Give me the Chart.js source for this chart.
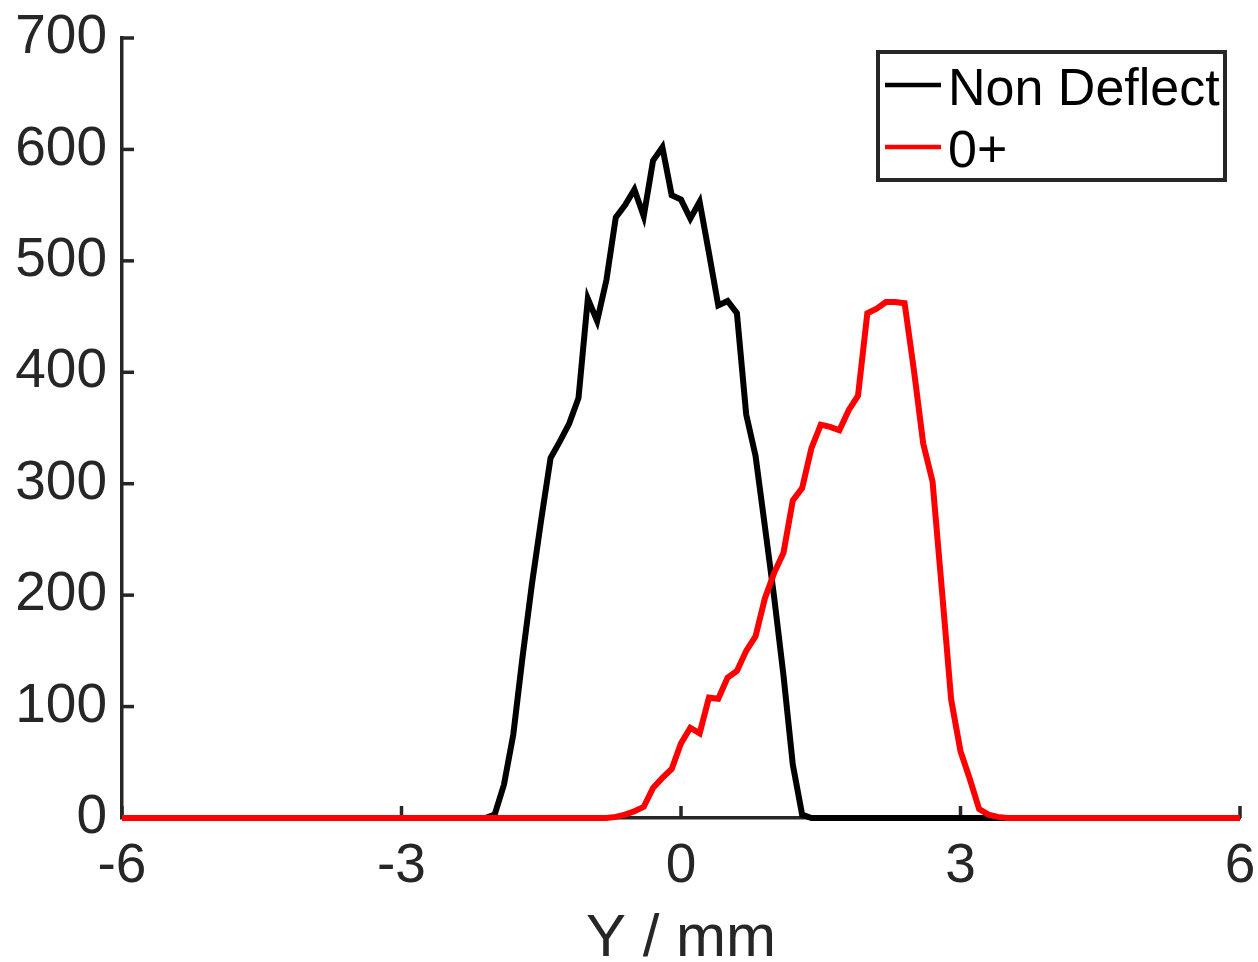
<!DOCTYPE html>
<html>
<head>
<meta charset="utf-8">
<script src="https://cdn.jsdelivr.net/npm/chart.js@4.4.1/dist/chart.umd.min.js"></script>
<style>
    html, body { margin: 0; padding: 0; background: #fff; }
    #wrap { width: 1258px; height: 962px; position: relative; }
</style>
</head>
<body>
<div id="wrap"><canvas id="profileChart"></canvas></div>
<script>
// Y position (mm) and counts
const nonDeflectX = [-6, -2.1, -2.0, -1.9, -1.8, -1.7, -1.6, -1.5, -1.4, -1.3, -1.2, -1.1, -1.0, -0.9, -0.8, -0.7, -0.6, -0.5, -0.4, -0.3, -0.2, -0.1, 0, 0.1, 0.2, 0.3, 0.4, 0.5, 0.6, 0.7, 0.8, 0.9, 1.0, 1.1, 1.2, 1.3, 1.4, 6];
const nonDeflectY = [0, 0, 3, 30, 75, 145, 210, 268, 323, 338, 354, 377, 466, 446, 483, 539, 550, 564, 540, 590, 602, 559, 555, 538, 553, 507, 460, 464, 453, 362, 325, 262, 198, 128, 48, 3, 0, 0];

const zeroPlusX = [-6, -0.8, -0.7, -0.6, -0.5, -0.4, -0.3, -0.2, -0.1, 0, 0.1, 0.2, 0.3, 0.4, 0.5, 0.6, 0.7, 0.8, 0.9, 1.0, 1.1, 1.2, 1.3, 1.4, 1.5, 1.6, 1.7, 1.8, 1.9, 2.0, 2.1, 2.2, 2.3, 2.4, 2.5, 2.6, 2.7, 2.8, 2.9, 3.0, 3.1, 3.2, 3.3, 3.4, 3.5, 6];
const zeroPlusY = [0, 0, 1, 3, 6, 10, 27, 36, 44, 67, 81, 76, 108, 107, 126, 132, 150, 163, 197, 220, 238, 285, 296, 332, 353, 351, 348, 366, 379, 453, 457, 463, 463, 462, 402, 336, 302, 205, 106, 60, 35, 8, 3, 1, 0, 0];

const seriesNames = ['Non Deflect', '0+'];
const xTicks = [-6, -3, 0, 3, 6];
const yTicks = [0, 100, 200, 300, 400, 500, 600, 700];

const FONT = "'Liberation Sans', Arial, Helvetica, sans-serif";
const AXIS = '#262626';

function toPoints(xs, ys) {
    return xs.map((x, i) => ({ x: x, y: ys[i] }));
}

// MATLAB style ticks pointing into the plot
const inwardTicks = {
    id: 'inwardTicks',
    beforeDatasetsDraw(chart) {
        const ctx = chart.ctx;
        const xs = chart.scales.x, ys = chart.scales.y;
        const area = chart.chartArea;
        ctx.save();
        ctx.strokeStyle = AXIS;
        ctx.lineWidth = 3.5;
        xTicks.forEach(v => {
            const px = xs.getPixelForValue(v);
            ctx.beginPath();
            ctx.moveTo(px, area.bottom);
            ctx.lineTo(px, area.bottom - 12);
            ctx.stroke();
        });
        yTicks.forEach(v => {
            const py = ys.getPixelForValue(v);
            ctx.beginPath();
            ctx.moveTo(area.left, py);
            ctx.lineTo(area.left + 12, py);
            ctx.stroke();
        });
        ctx.restore();
    }
};

const boxLegend = {
    id: 'boxLegend',
    afterDraw(chart) {
        const ctx = chart.ctx;
        const left = 878, top = 52, right = 1225, bottom = 180;
        ctx.save();
        ctx.fillStyle = '#fff';
        ctx.fillRect(left, top, right - left, bottom - top);
        ctx.strokeStyle = AXIS;
        ctx.lineWidth = 4;
        ctx.strokeRect(left, top, right - left, bottom - top);
        ctx.font = '52px ' + FONT;
        ctx.textBaseline = 'alphabetic';
        chart.data.datasets.forEach((ds, i) => {
            const ly = 85 + i * 62;
            ctx.strokeStyle = ds.borderColor;
            ctx.lineWidth = 4.5;
            ctx.beginPath();
            ctx.moveTo(885, ly);
            ctx.lineTo(941, ly);
            ctx.stroke();
            ctx.fillStyle = '#000';
            ctx.fillText(ds.label, 948, ly + 20);
        });
        ctx.restore();
    }
};

const chart = new Chart(document.getElementById('profileChart'), {
    type: 'line',
    data: {
        datasets: [{
            label: seriesNames[0],
            data: toPoints(nonDeflectX, nonDeflectY),
            borderColor: '#000000',
            borderWidth: 6,
            pointRadius: 0,
            tension: 0,
            clip: false,
            order: 1
        }, {
            label: seriesNames[1],
            data: toPoints(zeroPlusX, zeroPlusY),
            borderColor: '#ff0000',
            borderWidth: 6,
            pointRadius: 0,
            tension: 0,
            clip: false,
            order: 0
        }]
    },
    options: {
        responsive: true,
        maintainAspectRatio: false,
        animation: false,
        layout: { padding: { left: 0, top: 38, right: 18, bottom: 0 } },
        plugins: {
            legend: { display: false },
            tooltip: { enabled: false }
        },
        scales: {
            x: {
                type: 'linear',
                min: -6,
                max: 6,
                afterBuildTicks: scale => { scale.ticks = xTicks.map(v => ({ value: v })); },
                afterFit: scale => {
                    scale.height = 144;
                    scale.paddingLeft = 0;
                    scale.paddingRight = 0;
                },
                grid: { display: false, drawTicks: false },
                border: { display: true, color: AXIS, width: 3.5 },
                ticks: {
                    color: AXIS,
                    padding: 16,
                    maxRotation: 0,
                    font: { family: FONT, size: 55 }
                },
                title: {
                    display: true,
                    text: 'Y / mm',
                    color: AXIS,
                    font: { family: FONT, size: 60, lineHeight: 1 },
                    padding: { top: 0, bottom: -7 }
                }
            },
            y: {
                type: 'linear',
                min: 0,
                max: 700,
                afterBuildTicks: scale => { scale.ticks = yTicks.map(v => ({ value: v })); },
                afterFit: scale => {
                    scale.width = 122;
                    scale.paddingTop = 0;
                    scale.paddingBottom = 0;
                },
                grid: { display: false, drawTicks: false },
                border: { display: true, color: AXIS, width: 3.5 },
                ticks: {
                    color: AXIS,
                    padding: 15,
                    font: { family: FONT, size: 55 }
                }
            }
        }
    },
    plugins: [inwardTicks, boxLegend]
});
</script>
</body>
</html>
